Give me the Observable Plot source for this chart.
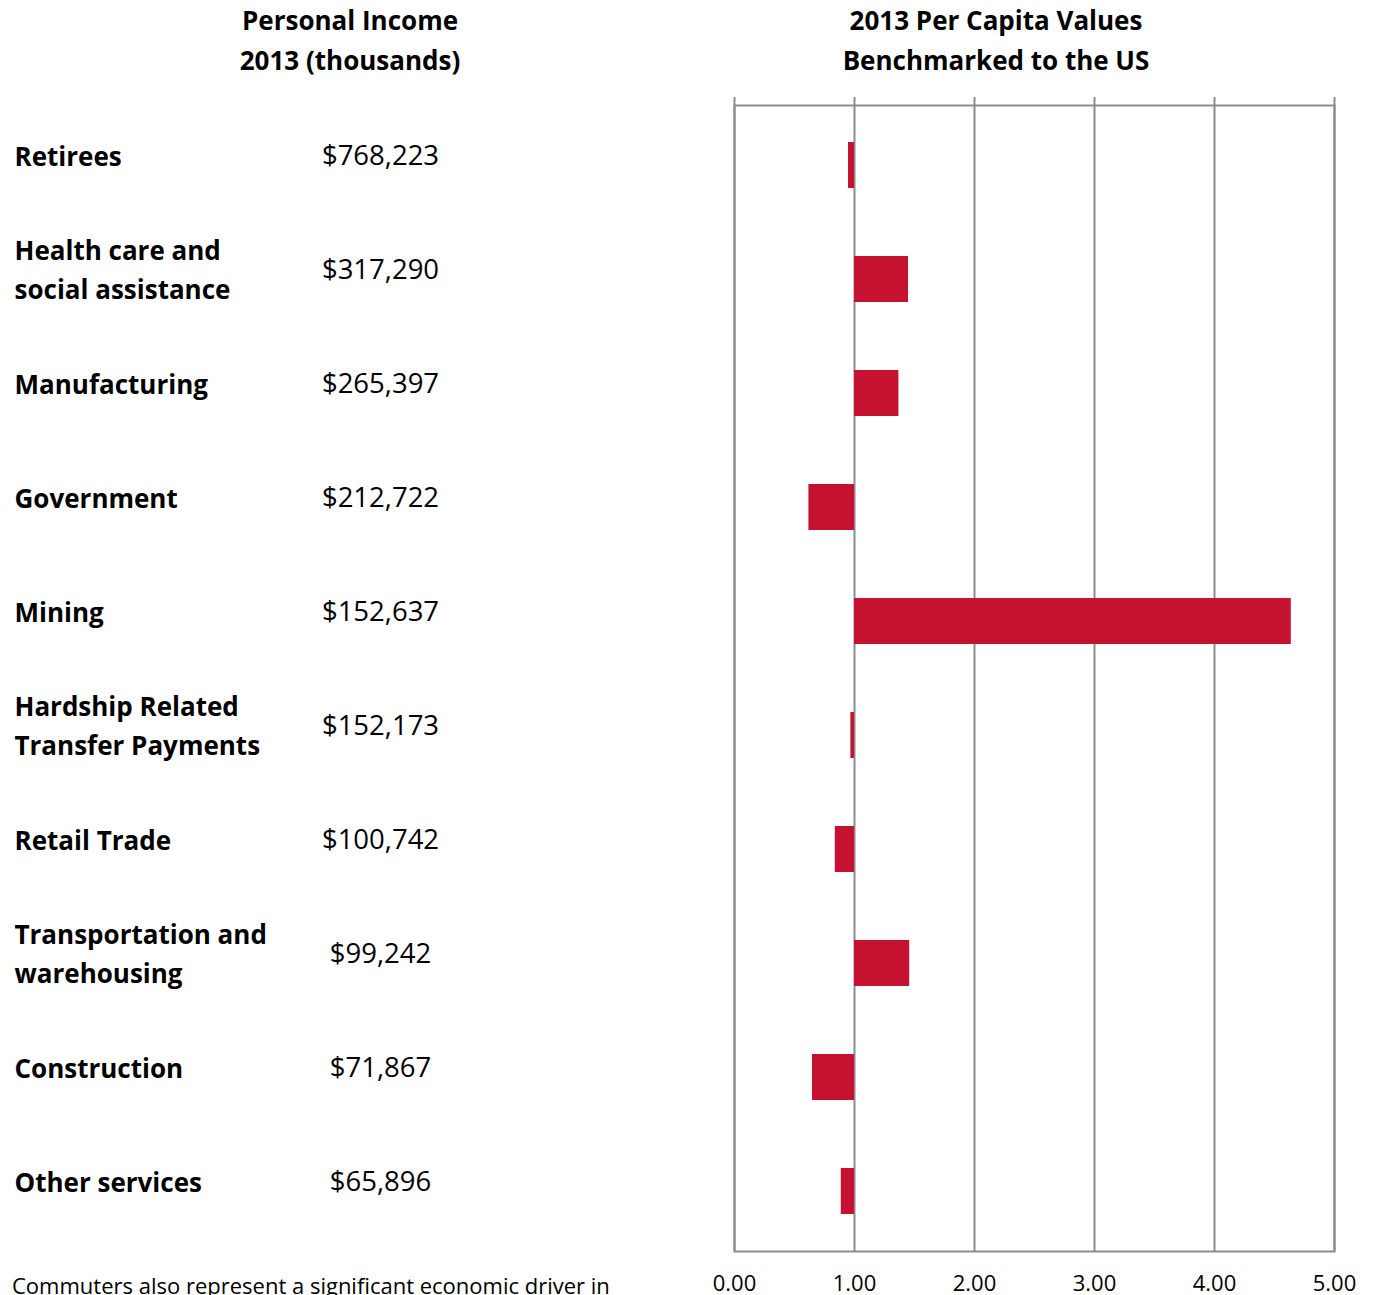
<!DOCTYPE html>
<html>
<head>
<meta charset="utf-8">
<script src="https://cdn.jsdelivr.net/npm/d3@7"></script>
<script src="https://cdn.jsdelivr.net/npm/@observablehq/plot@0.6"></script>
<style>
  html, body { margin: 0; padding: 0; background: #fff; }
  #wrap { position: relative; width: 1374px; height: 1295px; overflow: hidden; font-family: "Open Sans", Lato, sans-serif; color: #000; }
  .hdr { position: absolute; font-weight: bold; font-size: 26px; line-height: 40px; text-align: center; white-space: nowrap; }
  #caption { position: absolute; left: 12px; top: 1270px; font-size: 22px; white-space: nowrap; }
  #chart { position: absolute; left: 0; top: 0; }
</style>
</head>
<body>
<div id="wrap">
  <div id="chart"></div>
  <div class="hdr" id="h1" style="left:150px; width:400px; top:0px;">Personal Income<br>2013 (thousands)</div>
  <div class="hdr" id="h2" style="left:796px; width:400px; top:0px;">2013 Per Capita Values<br>Benchmarked to the US</div>
  <div id="caption">Commuters also represent a significant economic driver in</div>
</div>
<script>
const categories = [
  "Retirees",
  "Health care and\nsocial assistance",
  "Manufacturing",
  "Government",
  "Mining",
  "Hardship Related\nTransfer Payments",
  "Retail Trade",
  "Transportation and\nwarehousing",
  "Construction",
  "Other services"
];
const incomeLabels = ["$768,223", "$317,290", "$265,397", "$212,722", "$152,637", "$152,173", "$100,742", "$99,242", "$71,867", "$65,896"];
const perCapita = [0.95, 1.45, 1.37, 0.62, 4.64, 0.97, 0.84, 1.46, 0.65, 0.89];
const xTicks = [0, 1, 2, 3, 4, 5];

const rows = categories.map((c, i) => ({category: c, income: incomeLabels[i], value: perCapita[i]}));

const chart = Plot.plot({
  width: 1374,
  height: 1295,
  marginLeft: 734,
  marginRight: 40,
  marginTop: 105,
  marginBottom: 44,
  style: {fontFamily: "'Open Sans', Lato, sans-serif", color: "#000", background: "transparent"},
  x: {domain: [0, 5], ticks: xTicks, tickFormat: d3.format(".2f"), tickSize: 0, tickPadding: 24, label: null},
  y: {domain: categories, paddingInner: 0.6, paddingOuter: 0.3, axis: null},
  marks: [
    Plot.ruleX(xTicks, {stroke: "#8c8c8c", strokeWidth: 2, insetTop: -8}),
    Plot.frame({stroke: "#8c8c8c", strokeWidth: 2}),
    Plot.barX(rows, {x1: 1, x2: "value", y: "category", fill: "#c41230"}),
    Plot.text(rows, {y: "category", text: "category", frameAnchor: "left", dx: -720, dy: -12, textAnchor: "start", fontWeight: "bold", fontSize: 26, lineHeight: 1.5, fill: "#000"}),
    Plot.text(rows, {y: "category", text: "income", frameAnchor: "left", dx: -354, dy: -9, textAnchor: "middle", fontSize: 27.5, fill: "#000"})
  ]
});
const ax = chart.querySelector("[aria-label='x-axis tick label']");
if (ax) ax.setAttribute("font-size", "22");
document.getElementById("chart").append(chart);
</script>
</body>
</html>
